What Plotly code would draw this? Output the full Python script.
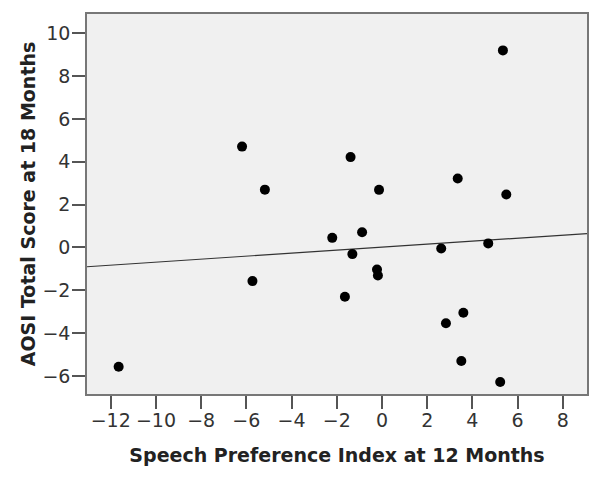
import plotly.graph_objects as go

speech_pref = [-11.65, -6.19, -5.18, -5.73, -1.39, -0.13, -2.20, -0.88, -1.31, -0.22,
               -0.18, -1.64, 2.62, 2.83, 5.35, 3.35, 5.50, 4.70, 3.60, 3.51, 5.23]
aosi_score = [-5.57, 4.71, 2.70, -1.57, 4.22, 2.69, 0.45, 0.71, -0.31, -1.03,
              -1.31, -2.30, -0.05, -3.54, 9.20, 3.22, 2.47, 0.19, -3.05, -5.30, -6.28]
fit_intercept = 0.015
fit_slope = 0.070
x_range = [-13.05, 9.07]
y_range = [-6.84, 10.9]
x_ticks = [-12, -10, -8, -6, -4, -2, 0, 2, 4, 6, 8]
y_ticks = [-6, -4, -2, 0, 2, 4, 6, 8, 10]

fig = go.Figure()
fig.add_trace(go.Scatter(
    x=x_range, y=[fit_intercept + fit_slope * v for v in x_range],
    mode="lines", line=dict(color="#333333", width=1.2), hoverinfo="skip"))
fig.add_trace(go.Scatter(
    x=speech_pref, y=aosi_score, mode="markers",
    marker=dict(color="black", size=10)))

axis_common = dict(
    showgrid=False, zeroline=False, showline=True, linecolor="#777777", linewidth=1.5,
    mirror=True, ticks="outside", ticklen=13, tickwidth=1.5, tickcolor="#555555",
    automargin=False,
    tickfont=dict(family="DejaVu Sans", size=19, color="#333333"))

fig.update_layout(
    width=601, height=480,
    margin=dict(l=87, r=14, t=14, b=86),
    paper_bgcolor="white", plot_bgcolor="#f0f0f0",
    showlegend=False,
    xaxis=dict(range=x_range, tickvals=x_ticks, ticklabelstandoff=-5, **axis_common,
               title=dict(text="<b>Speech Preference Index at 12 Months</b>",
                          font=dict(family="DejaVu Sans", size=19, color="#222222"),
                          standoff=19)),
    yaxis=dict(range=y_range, tickvals=y_ticks, ticklabelstandoff=-2, **axis_common,
               title=dict(text="<b>AOSI Total Score at 18 Months</b>",
                          font=dict(family="DejaVu Sans", size=19, color="#222222"),
                          standoff=2)),
)
fig.write_html("out.html", config={"displayModeBar": False},
               post_script="document.body.style.margin='0';")
